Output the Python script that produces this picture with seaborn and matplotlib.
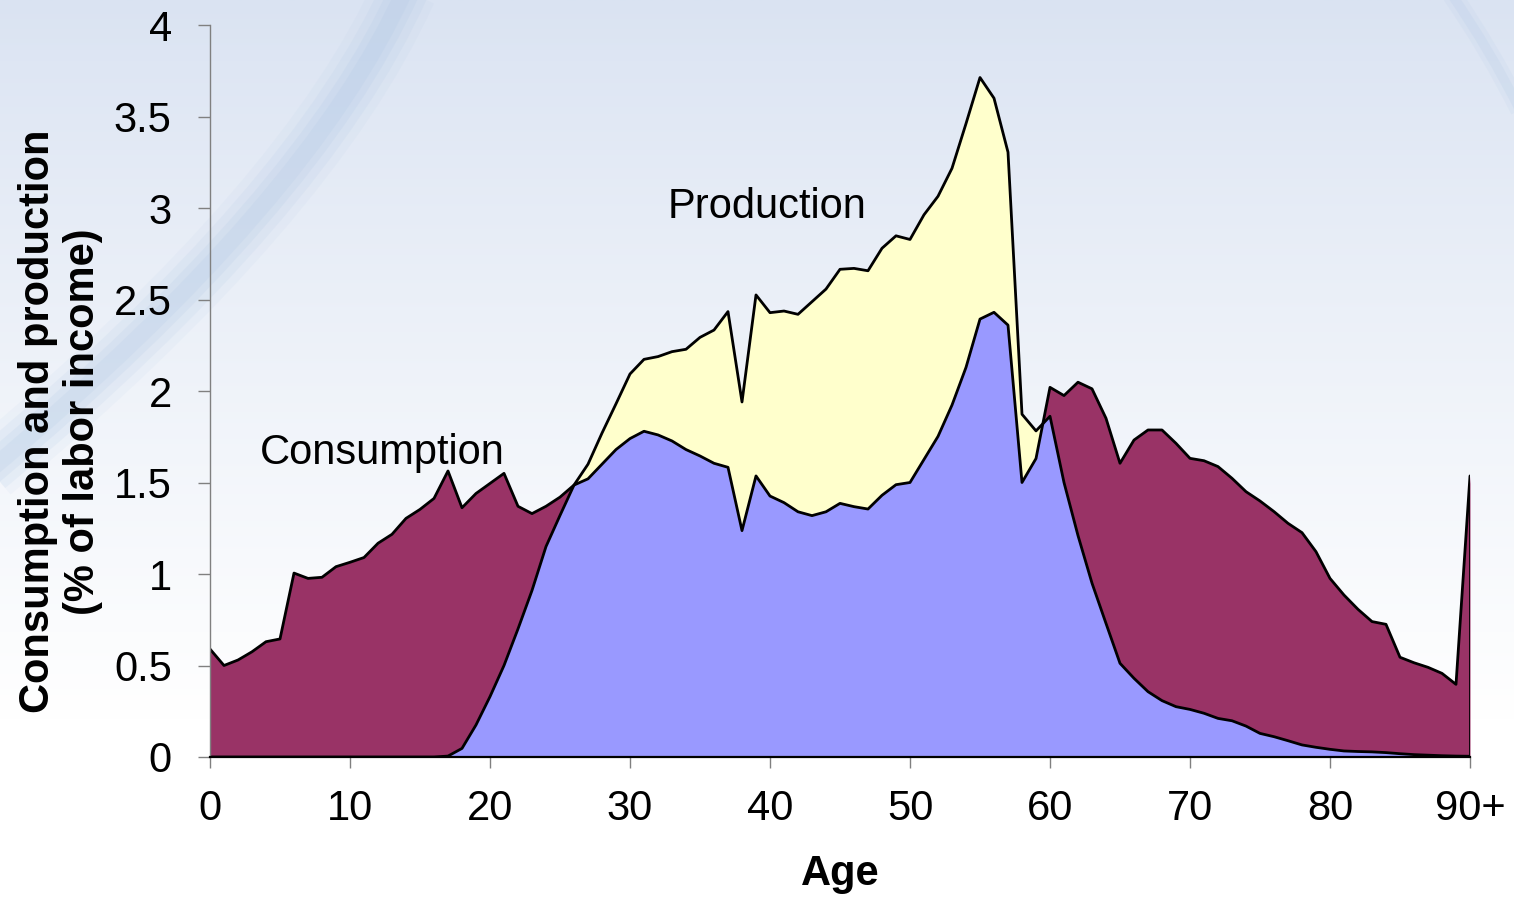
import numpy as np
import matplotlib
matplotlib.use("Agg")
import matplotlib.pyplot as plt
import seaborn as sns
from matplotlib.path import Path
from matplotlib.patches import PathPatch

ages = list(range(0, 91))
consumption = [0.59, 0.50, 0.53, 0.575, 0.63, 0.645, 1.005, 0.976, 0.982, 1.04,
               1.064, 1.09, 1.168, 1.217, 1.304, 1.353, 1.413, 1.563, 1.362, 1.44,
               1.495, 1.55, 1.37, 1.33, 1.37, 1.42, 1.486, 1.52, 1.60, 1.68,
               1.74, 1.78, 1.76, 1.727, 1.68, 1.645, 1.605, 1.583, 1.237, 1.536,
               1.426, 1.39, 1.34, 1.319, 1.34, 1.386, 1.368, 1.355, 1.43, 1.488,
               1.50, 1.626, 1.752, 1.923, 2.129, 2.393, 2.43, 2.36, 1.50, 1.631,
               2.02, 1.975, 2.048, 2.012, 1.851, 1.605, 1.732, 1.787, 1.787, 1.714,
               1.632, 1.619, 1.587, 1.523, 1.45, 1.399, 1.341, 1.277, 1.226, 1.122,
               0.976, 0.885, 0.807, 0.74, 0.725, 0.545, 0.515, 0.49, 0.457, 0.397,
               1.536]
production = [0, 0, 0, 0, 0, 0, 0, 0, 0, 0,
              0, 0, 0, 0, 0, 0, 0, 0.005, 0.047, 0.175,
              0.33, 0.50, 0.70, 0.91, 1.15, 1.32, 1.486, 1.60, 1.77, 1.93,
              2.093, 2.173, 2.188, 2.215, 2.228, 2.293, 2.333, 2.434, 1.94, 2.525,
              2.428, 2.437, 2.419, 2.488, 2.557, 2.665, 2.67, 2.657, 2.78, 2.848,
              2.828, 2.963, 3.064, 3.217, 3.461, 3.713, 3.60, 3.305, 1.873, 1.782,
              1.862, 1.50, 1.21, 0.95, 0.73, 0.512, 0.43, 0.357, 0.308, 0.275,
              0.26, 0.239, 0.211, 0.198, 0.169, 0.129, 0.111, 0.089, 0.066, 0.053,
              0.042, 0.033, 0.03, 0.028, 0.024, 0.018, 0.013, 0.01, 0.007, 0.005,
              0.004]
x_ticks = [0, 10, 20, 30, 40, 50, 60, 70, 80, 90]
x_tick_labels = ["0", "10", "20", "30", "40", "50", "60", "70", "80", "90+"]
y_ticks = [0, 0.5, 1, 1.5, 2, 2.5, 3, 3.5, 4]
y_tick_labels = ["0", "0.5", "1", "1.5", "2", "2.5", "3", "3.5", "4"]

sns.set_theme(style="white")
plt.rcParams['font.family'] = ['Liberation Sans', 'DejaVu Sans']
plt.rcParams['text.color'] = 'black'
plt.rcParams['axes.labelcolor'] = 'black'
plt.rcParams['xtick.color'] = 'black'
plt.rcParams['ytick.color'] = 'black'

W, H = 1514, 897
fig = plt.figure(figsize=(W / 100, H / 100), dpi=100)

# background gradient + decorative swoosh
bg = fig.add_axes([0, 0, 1, 1], zorder=-10)
top = np.array([218, 227, 242]) / 255.0
bot = np.array([255, 255, 255]) / 255.0
t = np.linspace(0, 1, 400)[:, None]
t = np.clip(t / 0.8, 0, 1) ** 0.9
grad = (top[None, :] * (1 - t) + bot[None, :] * t)[:, None, :]
grad = np.repeat(grad, 2, axis=1)
bg.imshow(grad, aspect="auto", extent=[0, W, H, 0])
arc = Path([(405, -10), (309, 203), (-10, 470)], [Path.MOVETO, Path.CURVE3, Path.CURVE3])
for lw, a in [(46, 0.08), (34, 0.12), (22, 0.15), (12, 0.15)]:
    bg.add_patch(PathPatch(arc, facecolor="none", edgecolor="#a9c3e3", lw=lw, alpha=a,
                           capstyle="butt"))
arc2 = Path([(1452, -5), (1490, 50), (1520, 110)], [Path.MOVETO, Path.CURVE3, Path.CURVE3])
for lw, a in [(14, 0.10), (7, 0.15)]:
    bg.add_patch(PathPatch(arc2, facecolor="none", edgecolor="#a9c3e3", lw=lw, alpha=a))
bg.set_xlim(0, W)
bg.set_ylim(H, 0)
bg.axis("off")

ax = fig.add_axes([210 / W, 1 - 757 / H, 1260 / W, 732 / H])
ax.patch.set_alpha(0)

# fills
xf = np.linspace(ages[0], ages[-1], 3000)
cf = np.interp(xf, ages, consumption)
pf = np.interp(xf, ages, production)
ax.fill_between(xf, 0, cf, color="#993366", lw=0)
ax.fill_between(xf, 0, pf, color="#FFFFCC", lw=0)
ax.fill_between(xf, 0, np.minimum(cf, pf), color="#9999FF", lw=0)

# outlines
sns.lineplot(x=ages, y=consumption, color="black", lw=2, ax=ax)
sns.lineplot(x=ages, y=production, color="black", lw=2, ax=ax)
ax.plot([ages[-1], ages[-1]], [0, consumption[-1]], color="black", lw=2)

ax.set_xlim(0, 90)
ax.set_ylim(0, 4)
ax.set_xticks(x_ticks)
ax.set_xticklabels(x_tick_labels)
ax.set_yticks(y_ticks)
ax.set_yticklabels(y_tick_labels)
ax.tick_params(axis="both", labelsize=30, labelcolor="black")
ax.tick_params(axis="y", direction="out", length=9, width=1, color="#808080", pad=18.5, left=True)
ax.tick_params(axis="x", direction="out", length=8, width=1, color="#808080", pad=15, bottom=True)

for s in ["top", "right"]:
    ax.spines[s].set_visible(False)
ax.spines["left"].set_color("#808080")
ax.spines["left"].set_linewidth(1)
ax.spines["bottom"].set_color("black")
ax.spines["bottom"].set_linewidth(1.6)
ax.spines["bottom"].set_zorder(5)

ax.set_xlabel("Age", fontsize=30, fontweight="bold", labelpad=18, color="black")
ax.set_ylabel("Consumption and production\n(% of labor income)", fontsize=30,
              fontweight="bold", linespacing=1.15, color="black")
ax.yaxis.set_label_coords(-0.085, 0.458)

ax.text(39.8, 3.005, "Production", fontsize=30, ha="center", va="center", color="black")
ax.text(12.3, 1.66, "Consumption", fontsize=30, ha="center", va="center", color="black")

fig.savefig("out.png", dpi=100)
